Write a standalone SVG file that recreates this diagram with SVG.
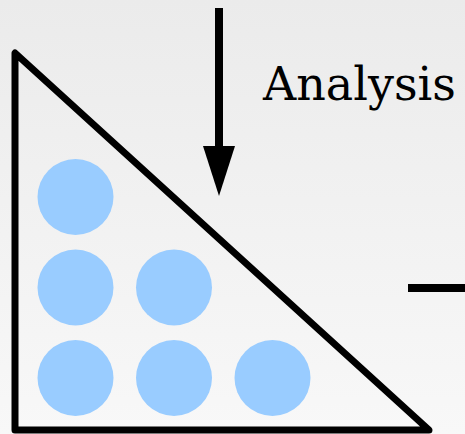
<svg xmlns="http://www.w3.org/2000/svg" width="465" height="434" viewBox="0 0 465 434">
  <defs>
    <linearGradient id="bg" x1="0" y1="0" x2="0" y2="1">
      <stop offset="0" stop-color="#ebebeb"/>
      <stop offset="1" stop-color="#f8f8f8"/>
    </linearGradient>
    <marker id="arrowhead" markerUnits="userSpaceOnUse" markerWidth="32" markerHeight="50" refX="16" refY="0" orient="auto-start-reverse" viewBox="0 0 32 50">
      <polygon points="0,0 32,0 16,50" fill="#000"/>
    </marker>
    <style>
      .edge { stroke: #000; stroke-width: 8; fill: none; }
      .tri { stroke: #000; stroke-width: 7; fill: none; stroke-linejoin: round; }
      .ball { fill: #99ccff; }
      .label { font-family: "DejaVu Serif", "Liberation Serif", serif; font-size: 46px; fill: #000; }
    </style>
  </defs>
  <rect x="0" y="0" width="465" height="434" fill="url(#bg)"/>
  <g id="triangle">
    <polygon class="tri" points="15,53 15,430 429,430"/>
    <circle class="ball" cx="75.5" cy="197" r="38"/>
    <circle class="ball" cx="75.5" cy="287.5" r="38"/>
    <circle class="ball" cx="174" cy="287.5" r="38"/>
    <circle class="ball" cx="75.5" cy="378" r="38"/>
    <circle class="ball" cx="174" cy="378" r="38"/>
    <circle class="ball" cx="272.5" cy="378" r="38"/>
  </g>
  <g id="analysis-label">
    <text class="label" x="263" y="100">Analysis</text>
  </g>
  <g id="connectors">
    <line class="edge" x1="219" y1="8" x2="219" y2="147"/>
    <polygon points="203,146 235,146 219,196" fill="#000"/>
    <line class="edge" x1="408" y1="288" x2="465" y2="288"/>
  </g>
</svg>
